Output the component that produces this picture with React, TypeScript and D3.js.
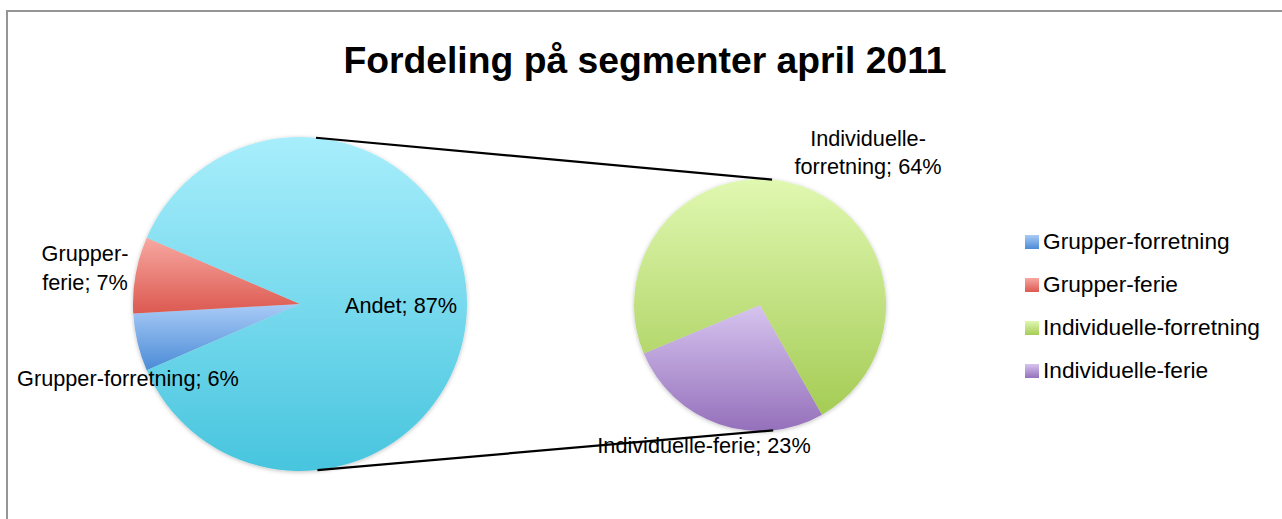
import React from "react";
import * as d3 from "d3";

const title = "Fordeling på segmenter april 2011";
const primaryCategories = ["Grupper-forretning", "Grupper-ferie", "Andet"];
const secondaryCategories = ["Individuelle-ferie", "Individuelle-forretning"];
const groupValues = [5.6, 7.4];
const individualValues = [23.4, 63.6];
const legendCategories = ["Grupper-forretning", "Grupper-ferie", "Individuelle-forretning", "Individuelle-ferie"];

const gradients: Record<string, [string, string]> = {
  "Grupper-forretning": ["#a9cbf7", "#4b8bd6"],
  "Grupper-ferie": ["#f7a8a2", "#dc5950"],
  "Individuelle-forretning": ["#e0f8b1", "#a5cc55"],
  "Individuelle-ferie": ["#d6c4ef", "#9570bb"],
  Andet: ["#a8eefc", "#47c5de"],
};

const W = 1282;
const H = 519;
const FONT = "'Liberation Sans', Arial, sans-serif";
const deg = Math.PI / 180;

export default function App() {
  const andet = d3.sum(individualValues);
  const primaryValues = [...groupValues, andet];

  const c1 = { x: 300, y: 304, r: 167 };
  const c2 = { x: 760, y: 305, r: 126 };

  const groupSpan = (d3.sum(groupValues) / d3.sum(primaryValues)) * 2 * Math.PI;
  const p1Start = 1.5 * Math.PI - groupSpan / 2;
  const pie1 = d3.pie<number>().sort(null).startAngle(p1Start).endAngle(p1Start + 2 * Math.PI)(primaryValues);
  const p2Start = 150.5 * deg;
  const pie2 = d3.pie<number>().sort(null).startAngle(p2Start).endAngle(p2Start + 2 * Math.PI)(individualValues);

  const arc1 = d3.arc<d3.PieArcDatum<number>>().innerRadius(0).outerRadius(c1.r);
  const arc2 = d3.arc<d3.PieArcDatum<number>>().innerRadius(0).outerRadius(c2.r);

  const pt = (c: { x: number; y: number; r: number }, a: number) => [c.x + c.r * Math.sin(a), c.y - c.r * Math.cos(a)];
  const topA = 5.5 * deg;
  const botA = 174 * deg;
  const l1a = pt(c1, topA), l1b = pt(c2, topA);
  const l2a = pt(c1, botA), l2b = pt(c2, botA);

  const pct = (v: number) => `${Math.round(v)}%`;
  const slug = (s: string) => "g-" + s.replace(/[^a-zA-Z]/g, "");

  const labelStyle = { fontFamily: FONT, fontSize: 21.7, fill: "#000" } as const;

  return (
    <svg width={W} height={H} style={{ position: "absolute", left: 0, top: 0, background: "#fff" }}>
      <defs>
        {Object.entries(gradients).map(([k, [a, b]]) => (
          <linearGradient key={k} id={slug(k)} x1="0" y1="0" x2="0" y2="1">
            <stop offset="0" stopColor={a} />
            <stop offset="1" stopColor={b} />
          </linearGradient>
        ))}
        <filter id="shadow" x="-10%" y="-10%" width="120%" height="120%">
          <feDropShadow dx="0" dy="1" stdDeviation="2" floodColor="#000" floodOpacity="0.25" />
        </filter>
      </defs>
      <rect x={7} y={11} width={1400} height={700} fill="#fff" stroke="#959595" strokeWidth={2} />
      <text x={645} y={73} textAnchor="middle" style={{ fontFamily: FONT, fontSize: 37.3, fontWeight: "bold" }}>
        {title}
      </text>

      <g transform={`translate(${c1.x},${c1.y})`} filter="url(#shadow)">
        {pie1.map((d, i) => (
          <path key={i} d={arc1(d) || ""} fill={`url(#${slug(primaryCategories[i])})`} />
        ))}
      </g>
      <g transform={`translate(${c2.x},${c2.y})`} filter="url(#shadow)">
        {pie2.map((d, i) => (
          <path key={i} d={arc2(d) || ""} fill={`url(#${slug(secondaryCategories[i])})`} />
        ))}
      </g>

      <line x1={l1a[0]} y1={l1a[1]} x2={l1b[0]} y2={l1b[1]} stroke="#000" strokeWidth={2.2} />
      <line x1={l2a[0]} y1={l2a[1]} x2={l2b[0]} y2={l2b[1]} stroke="#000" strokeWidth={2.2} />

      {/* data labels */}
      <text x={c1.x + 101} y={c1.y + 9} textAnchor="middle" style={labelStyle}>
        {`${primaryCategories[2]}; ${pct(andet)}`}
      </text>
      <text x={85} y={261} textAnchor="middle" style={labelStyle}>
        <tspan x={85}>Grupper-</tspan>
        <tspan x={85} dy={28.5}>{`ferie; ${pct(groupValues[1])}`}</tspan>
      </text>
      <text x={128} y={386} textAnchor="middle" style={labelStyle}>
        {`${primaryCategories[0]}; ${pct(groupValues[0])}`}
      </text>
      <text x={868} y={146} textAnchor="middle" style={labelStyle}>
        <tspan x={868}>Individuelle-</tspan>
        <tspan x={868} dy={27.5}>{`forretning; ${pct(individualValues[1])}`}</tspan>
      </text>
      <text x={704} y={453} textAnchor="middle" style={labelStyle}>
        {`${secondaryCategories[0]}; ${pct(individualValues[0])}`}
      </text>

      {/* legend */}
      {legendCategories.map((c, i) => (
        <g key={c} transform={`translate(1025,${235 + i * 43})`}>
          <rect x={0} y={0} width={14} height={14} fill={`url(#${slug(c)})`} />
          <text x={18} y={14} style={{ fontFamily: FONT, fontSize: 22.7, fill: "#000" }}>
            {c}
          </text>
        </g>
      ))}
    </svg>
  );
}
